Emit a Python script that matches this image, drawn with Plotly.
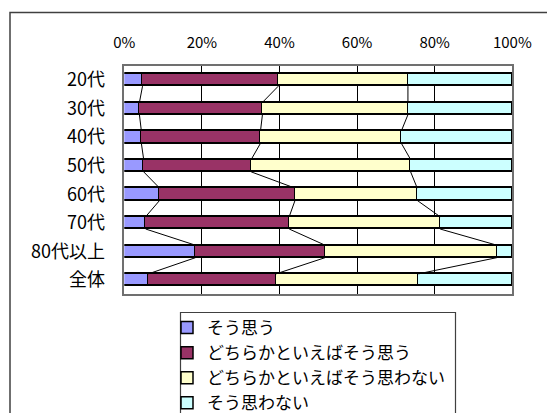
import plotly.graph_objects as go

# Age groups (top to bottom) and response shares in percent
categories = ["20代", "30代", "40代", "50代", "60代", "70代", "80代以上", "全体"]
series_names = ["そう思う", "どちらかといえばそう思う", "どちらかといえばそう思わない", "そう思わない"]
agree = [4.7, 3.9, 4.4, 5.0, 9.1, 5.5, 18.4, 6.2]
rather_agree = [35.0, 31.7, 30.7, 27.7, 34.9, 37.0, 33.4, 32.9]
rather_disagree = [33.4, 37.5, 36.3, 41.1, 31.5, 38.9, 44.3, 36.7]
disagree = [26.9, 26.9, 28.6, 26.2, 24.5, 18.6, 3.9, 24.2]
x_ticks = [0, 20, 40, 60, 80, 100]

values = [agree, rather_agree, rather_disagree, disagree]
colors = ["#9999FF", "#993366", "#FFFFCC", "#CCFFFF"]

W, H = 547, 413
FONT = "Noto Sans CJK JP"
BAR_W = 0.43

ypos = list(range(len(categories)))

fig = go.Figure()
for name, vals, col in zip(series_names, values, colors):
    fig.add_trace(go.Bar(
        y=ypos, x=vals, name=name, orientation="h", width=BAR_W,
        marker=dict(color=col, line=dict(color="black", width=1.5)),
        hoverinfo="skip",
    ))

# Series lines joining segment boundaries of neighbouring bars
lx, ly = [], []
for k in range(len(values) - 1):
    cum = [sum(values[s][i] for s in range(k + 1)) for i in range(len(categories))]
    for i in range(len(categories) - 1):
        lx += [cum[i], cum[i + 1], None]
        ly += [i + BAR_W / 2, i + 1 - BAR_W / 2, None]
fig.add_trace(go.Scatter(x=lx, y=ly, mode="lines", line=dict(color="black", width=1),
                         showlegend=False, hoverinfo="skip"))

def px_x(p):
    return p / W

def px_y(p):
    return 1 - p / H

fig.update_layout(
    width=W, height=H,
    margin=dict(l=0, r=0, t=0, b=0, autoexpand=False),
    paper_bgcolor="white", plot_bgcolor="white",
    barmode="stack", bargap=0,
    font=dict(family=FONT, color="black"),
    showlegend=True,
    legend=dict(
        x=px_x(167), y=px_y(310), xanchor="left", yanchor="top",
        font=dict(family=FONT, size=17, color="black"),
        bgcolor="rgba(0,0,0,0)", borderwidth=0,
        traceorder="normal",
    ),
    xaxis=dict(
        domain=[px_x(124.3), px_x(512.3)],
        side="top", range=[0, 100], tickvals=x_ticks,
        ticktext=[f"{v}%" for v in x_ticks],
        showgrid=True, gridcolor="black", gridwidth=1,
        showline=True, linecolor="#707070", linewidth=1.5, mirror=True,
        zeroline=False, ticks="", ticklabelstandoff=10,
        tickfont=dict(family=FONT, size=15, color="black"),
        fixedrange=True, automargin=False,
    ),
    yaxis=dict(
        domain=[px_y(294.3), px_y(65.7)],
        range=[len(categories) - 0.5, -0.5],
        tickvals=ypos, ticktext=categories,
        showgrid=False, zeroline=False,
        showline=True, linecolor="#707070", linewidth=1.5, mirror=True,
        ticks="", ticklabelstandoff=14,
        tickfont=dict(family=FONT, size=18, color="black"),
        fixedrange=True, automargin=False,
    ),
    shapes=[
        # chart frame
        dict(type="rect", xref="paper", yref="paper",
             x0=px_x(10), x1=px_x(W + 20), y0=px_y(H + 20), y1=px_y(12.5),
             line=dict(color="#404040", width=1.5), fillcolor="rgba(0,0,0,0)", layer="below"),
        # legend frame
        dict(type="rect", xref="paper", yref="paper",
             x0=px_x(180.5), x1=px_x(455.5), y0=px_y(H + 20), y1=px_y(312.5),
             line=dict(color="#404040", width=1.2), fillcolor="white", layer="below"),
    ],
)

fig.write_html("out.html")
